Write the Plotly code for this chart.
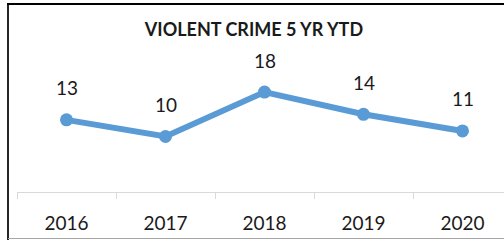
import plotly.graph_objects as go

years = ["2016", "2017", "2018", "2019", "2020"]
crimes = [13, 10, 18, 14, 11]
title_text = "VIOLENT CRIME 5 YR YTD"

W, H = 504, 240
ML, MR, MT, MB = 17, 0, 81, 48
PW = W - ML - MR
PH = H - MT - MB

fig = go.Figure()
fig.add_trace(go.Scatter(
    x=years, y=crimes, mode="lines+markers",
    line=dict(color="#5B9BD5", width=6),
    marker=dict(color="#5B9BD5", size=13),
    hoverinfo="skip", showlegend=False,
))

for i, v in enumerate(crimes):
    fig.add_annotation(x=i, y=v, text=str(v), showarrow=False,
                       yshift=32, yanchor="middle",
                       font=dict(family="Lato", size=19, color="#1a1a1a"))

def px_x(p):
    return (p - ML) / PW

def px_y(p):
    return (H - MB - p) / PH

line_shapes = [
    dict(x0=px_x(8), x1=px_x(8), y0=px_y(3), y1=px_y(240), color="#262626", width=2),
    dict(x0=px_x(7), x1=px_x(504), y0=px_y(4), y1=px_y(4), color="#000000", width=2),
    dict(x0=px_x(8), x1=px_x(504), y0=px_y(238.5), y1=px_y(238.5), color="#A6A6A6", width=1),
]
for s in line_shapes:
    fig.add_shape(type="line", xref="paper", yref="paper",
                  x0=s["x0"], x1=s["x1"], y0=s["y0"], y1=s["y1"],
                  line=dict(color=s["color"], width=s["width"]))

fig.update_layout(
    width=W, height=H,
    margin=dict(l=ML, r=MR, t=MT, b=MB, pad=0),
    paper_bgcolor="white", plot_bgcolor="white",
    title=dict(text="<b>" + title_text + "</b>", x=254 / W, xanchor="center",
               y=1 - 30 / H, yanchor="middle", yref="container",
               font=dict(family="Lato", size=18, color="#1a1a1a")),
    xaxis=dict(type="category", range=[-0.5, -0.5 + PW / 99.0],
               showline=True, linecolor="#D9D9D9", linewidth=1,
               ticks="outside", tickson="boundaries", ticklen=6,
               tickcolor="#D9D9D9", tickwidth=1, showgrid=False,
               ticklabelstandoff=14,
               tickfont=dict(family="Lato", size=19, color="#1a1a1a")),
    yaxis=dict(range=[0, 20], visible=False, showgrid=False, zeroline=False),
)

fig.write_html(
    "out.html",
    config={"displayModeBar": False, "responsive": False},
    post_script=(
        "document.body.style.margin='0';"
        "document.body.style.overflow='hidden';"
        "document.documentElement.style.overflow='hidden';"
        "document.documentElement.style.scrollbarWidth='none';"
        "document.body.style.scrollbarWidth='none';"
    ),
)
